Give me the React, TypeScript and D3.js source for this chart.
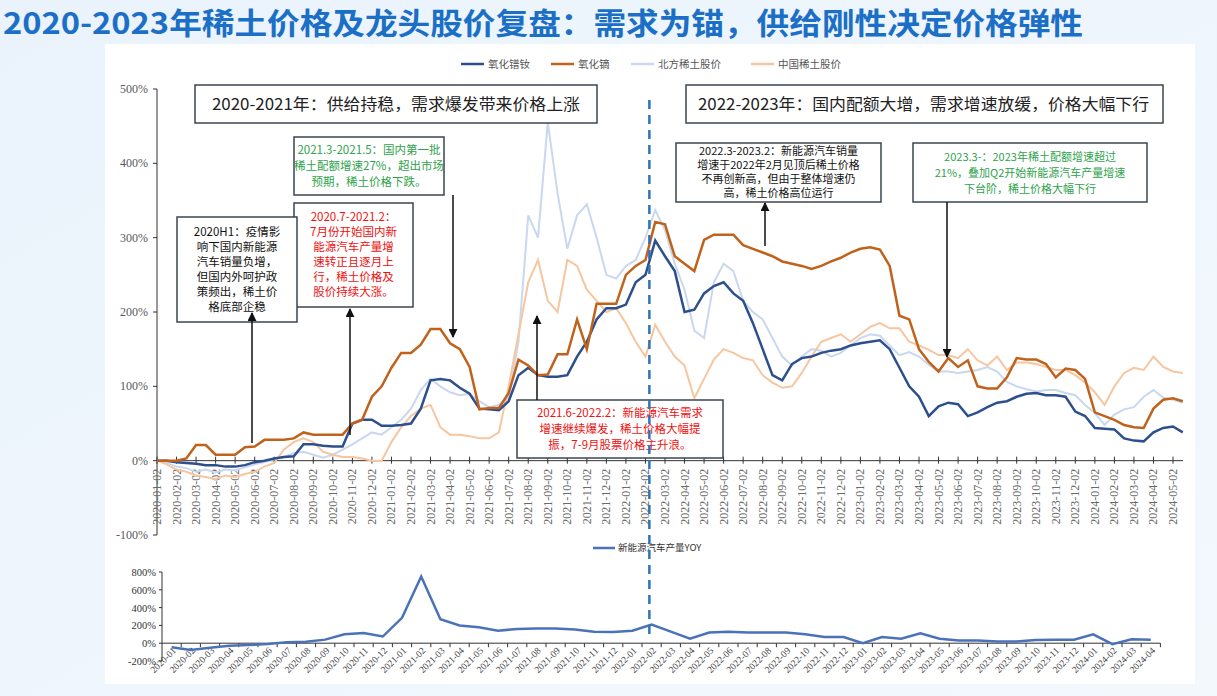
import React from 'react';
import * as d3 from 'd3';

// ---------- DATA ----------
const tickMonths = [
  '2020-01','2020-02','2020-03','2020-04','2020-05','2020-06','2020-07','2020-08','2020-09','2020-10','2020-11','2020-12',
  '2021-01','2021-02','2021-03','2021-04','2021-05','2021-06','2021-07','2021-08','2021-09','2021-10','2021-11','2021-12',
  '2022-01','2022-02','2022-03','2022-04','2022-05','2022-06','2022-07','2022-08','2022-09','2022-10','2022-11','2022-12',
  '2023-01','2023-02','2023-03','2023-04','2023-05','2023-06','2023-07','2023-08','2023-09','2023-10','2023-11','2023-12',
  '2024-01','2024-02','2024-03','2024-04','2024-05'
];
// price / stock samples taken on the 2nd and 17th of each month
const sampleDates = tickMonths.flatMap((m) => [m + '-02', m + '-17']);

const prNdOxide = [
  0,0,-2,-3,-4,-6,-6,-8,-8,-6,-2,0,3,5,6,22,22,20,19,19,50,55,55,47,47,48,50,70,108,110,
  108,98,90,70,69,68,80,115,125,115,113,113,115,140,160,190,205,205,210,240,250,296,275,255,200,203,225,235,240,225,
  215,185,150,115,108,130,138,140,145,148,150,155,158,160,162,150,125,100,86,60,73,78,76,60,65,72,78,80,86,90,
  91,88,88,86,66,60,44,43,42,30,27,26,38,44,46,38
];
const dyOxide = [
  0,0,0,3,21,21,8,8,8,18,19,28,28,28,30,38,35,35,35,35,50,55,86,100,125,145,145,156,177,177,
  158,150,126,69,71,71,91,136,128,115,116,143,143,190,150,211,211,211,250,262,270,321,318,275,265,255,297,304,304,304,
  290,285,280,275,268,265,262,258,262,268,273,280,285,287,284,262,195,190,150,133,120,138,126,135,100,97,97,112,138,136,
  136,130,112,124,122,110,65,60,55,48,45,44,70,82,84,80
];
const northernRE = [
  0,-3,-8,-10,-15,-12,-16,-12,-13,-9,-5,-2,2,5,10,12,8,4,8,15,22,30,38,35,45,55,70,95,110,100,
  92,88,90,80,72,75,85,160,330,300,455,360,285,330,345,300,250,245,262,270,300,337,310,265,230,175,165,240,265,255,
  215,200,190,165,140,128,140,150,148,140,145,155,165,170,168,155,142,146,140,129,120,120,118,120,122,126,120,106,100,96,
  93,95,95,91,88,75,64,48,62,69,72,86,95,85,82,78
];
const chinaRE = [
  0,-5,-12,-15,-20,-22,-25,-20,-22,-18,-15,-8,-3,15,25,30,25,12,8,5,5,3,0,0,25,45,60,70,75,45,
  35,35,33,30,30,38,100,170,240,270,215,200,270,262,230,215,200,205,185,160,140,183,160,140,128,84,110,136,150,145,
  138,135,115,105,98,100,118,140,160,165,170,160,170,180,185,178,178,160,155,149,142,142,138,150,135,128,140,122,132,132,
  130,126,122,122,115,105,92,75,100,118,125,122,140,126,120,118
];

const yoyMonths = tickMonths.slice(0, 52);
const nevOutputYoY = [
  -45,-75,-50,-30,-20,-10,10,15,40,100,115,75,
  285,750,270,200,180,140,160,165,165,155,130,125,
  140,210,130,50,120,130,120,120,120,100,70,70,
  0,70,50,110,50,30,30,20,20,35,40,40,
  100,-10,45,40
];

const mainYTicks = [-100, 0, 100, 200, 300, 400, 500];
const subYTicks = [-200, 0, 200, 400, 600, 800];

const legendNames = ['氧化镨钕', '氧化镝', '北方稀土股价', '中国稀土股价'];
const seriesColors = ['#2d4f8e', '#c0621c', '#c9d8ee', '#f6c6a0'];

// ---------- LAYOUT ----------
const W = 1217, H = 696;
const CJK = '"Noto Sans CJK SC", "Noto Sans", sans-serif';
const SERIF = '"Liberation Serif", "DejaVu Serif", serif';

const tOf = (s: string) => {
  const [yy, m, d] = s.split('-').map(Number);
  return (yy - 2020) * 12 + (m - 1) + ((d || 2) - 2) / 30;
};

const x = d3.scaleLinear().domain([0, 52]).range([157, 1173]);
const y = d3.scaleLinear().domain([-100, 500]).range([535, 89]);
const xb = d3.scaleBand().domain(yoyMonths).range([162, 162 + 52 * 19.2]);
const yb = d3.scaleLinear().domain([-200, 800]).range([661, 572]);

const lineGen = d3.line<[number, number]>().x((d) => x(d[0])).y((d) => y(d[1]));
const seriesPath = (vals: number[]) =>
  lineGen(vals.map((v, i) => [tOf(sampleDates[i]), v] as [number, number])) || '';

const yoyLine = d3
  .line<number>()
  .x((_, i) => (xb(yoyMonths[i]) as number) + xb.bandwidth() / 2)
  .y((v) => yb(v));

function Box(props: {
  x: number; y: number; w: number; h: number; lines: string[]; color: string;
  fs?: number; lh?: number;
}) {
  const { x: bx, y: by, w, h, lines, color } = props;
  const fs = props.fs ?? 11.5;
  const lh = props.lh ?? 15;
  const ty = by + (h - lh * lines.length) / 2 + lh * 0.76;
  return (
    <g>
      <rect x={bx} y={by} width={w} height={h} fill="#fff" stroke="#3a4450" strokeWidth={1.5} />
      {lines.map((l, i) => (
        <text key={i} x={bx + w / 2} y={ty + i * lh} textAnchor="middle" fontSize={fs} fill={color} fontFamily={CJK}>
          {l}
        </text>
      ))}
    </g>
  );
}

export default function App() {
  const dashX = x(tOf('2022-02-08'));
  return (
    <div style={{ position: 'absolute', left: 0, top: 0, width: W, height: H, overflow: 'hidden' }}>
      <svg width={W} height={H} style={{ display: 'block' }}>
        <defs>
          <linearGradient id="bg" x1="0" y1="0" x2="1" y2="1">
            <stop offset="0" stopColor="#eaf3fc" />
            <stop offset="1" stopColor="#f3f8fd" />
          </linearGradient>
          <marker id="ah" viewBox="0 0 10 10" refX="9" refY="5" markerWidth="9" markerHeight="9"
            markerUnits="userSpaceOnUse" orient="auto">
            <path d="M0,0 L10,5 L0,10 z" fill="#111" />
          </marker>
        </defs>
        <rect x={0} y={0} width={W} height={H} fill="url(#bg)" />
        <rect x={105} y={44} width={1090} height={640} fill="#fff" />

        {/* title */}
        <text x={3} y={34} fontSize={30} fontWeight={700} fill="#1b6fc6" fontFamily={CJK}
          textLength={1080} lengthAdjust="spacingAndGlyphs">
          2020-2023年稀土价格及龙头股价复盘：需求为锚，供给刚性决定价格弹性
        </text>

        {/* legend */}
        {legendNames.map((n, i) => {
          const lx = [461, 551, 631, 751][i];
          return (
            <g key={n}>
              <line x1={lx} x2={lx + 23} y1={64} y2={64} stroke={seriesColors[i]} strokeWidth={2.5} />
              <text x={lx + 27} y={68} fontSize={10.5} fill="#555" fontFamily={CJK}>{n}</text>
            </g>
          );
        })}

        {/* main axes */}
        <line x1={157} x2={157} y1={y(500)} y2={y(-100)} stroke="#333" strokeWidth={1} />
        {mainYTicks.map((v) => (
          <g key={v}>
            <line x1={153} x2={157} y1={y(v)} y2={y(v)} stroke="#333" />
            <text x={148} y={y(v) + 4} textAnchor="end" fontSize={12} fill="#595959" fontFamily={SERIF}>{v}%</text>
          </g>
        ))}
        <line x1={157} x2={1183} y1={y(0)} y2={y(0)} stroke="#333" strokeWidth={1} />
        {tickMonths.map((m, i) => (
          <g key={m}>
            <line x1={x(i)} x2={x(i)} y1={y(0) - 4} y2={y(0) + 3} stroke="#333" />
            <text transform={`translate(${x(i) + 4},${y(0) + 8}) rotate(-90)`} textAnchor="end" fontSize={12}
              fill="#6a6a6a" fontFamily={SERIF}>{m + '-02'}</text>
          </g>
        ))}

        {/* series */}
        <path d={seriesPath(northernRE)} fill="none" stroke={seriesColors[2]} strokeWidth={2} />
        <path d={seriesPath(chinaRE)} fill="none" stroke={seriesColors[3]} strokeWidth={2} />
        <path d={seriesPath(prNdOxide)} fill="none" stroke={seriesColors[0]} strokeWidth={2.5} />
        <path d={seriesPath(dyOxide)} fill="none" stroke={seriesColors[1]} strokeWidth={2.5} />

        {/* annotation boxes */}
        <rect x={195} y={85} width={402} height={38} fill="#fff" stroke="#3a4450" strokeWidth={1.5} />
        <text x={212} y={110} fontSize={16} fill="#222" fontFamily={CJK} textLength={368} lengthAdjust="spacingAndGlyphs">
          2020-2021年：供给持稳，需求爆发带来价格上涨
        </text>
        <rect x={686} y={85} width={477} height={38} fill="#fff" stroke="#3a4450" strokeWidth={1.5} />
        <text x={698} y={110} fontSize={16} fill="#222" fontFamily={CJK} textLength={451} lengthAdjust="spacingAndGlyphs">
          2022-2023年：国内配额大增，需求增速放缓，价格大幅下行
        </text>

        <Box x={294} y={137} w={150} h={58} color="#2ea34c" lh={16}
          lines={['2021.3-2021.5：国内第一批', '稀土配额增速27%，超出市场', '预期，稀土价格下跌。']} />
        <Box x={294} y={203} w={119} h={104} color="#f01010"
          lines={['2020.7-2021.2：', '7月份开始国内新', '能源汽车产量增', '速转正且逐月上', '行，稀土价格及', '股价持续大涨。']} />
        <Box x={177} y={217} w={120} h={105} color="#111"
          lines={['2020H1：疫情影', '响下国内新能源', '汽车销量负增，', '但国内外呵护政', '策频出，稀土价', '格底部企稳']} />
        <Box x={517} y={400} w={206} h={58} color="#f01010" lh={16}
          lines={['2021.6-2022.2：新能源汽车需求', '增速继续爆发，稀土价格大幅提', '振，7-9月股票价格主升浪。']} />
        <Box x={676} y={143} w={205} h={59} color="#111" fs={11} lh={14}
          lines={['2022.3-2023.2：新能源汽车销量', '增速于2022年2月见顶后稀土价格', '不再创新高，但由于整体增速仍', '高，稀土价格高位运行']} />
        <Box x={913} y={143} w={234} h={59} color="#2ea34c" fs={11} lh={16}
          lines={['2023.3-：2023年稀土配额增速超过', '21%，叠加Q2开始新能源汽车产量增速', '下台阶，稀土价格大幅下行']} />

        {/* arrows */}
        <line x1={252} y1={443} x2={252} y2={313} stroke="#111" strokeWidth={1.5} markerEnd="url(#ah)" />
        <line x1={350} y1={435} x2={350} y2={309} stroke="#111" strokeWidth={1.5} markerEnd="url(#ah)" />
        <line x1={453} y1={195} x2={453} y2={337} stroke="#111" strokeWidth={1.5} markerEnd="url(#ah)" />
        <line x1={537} y1={400} x2={537} y2={316} stroke="#111" strokeWidth={1.5} markerEnd="url(#ah)" />
        <line x1={765} y1={246} x2={765} y2={203} stroke="#111" strokeWidth={1.5} markerEnd="url(#ah)" />
        <line x1={947} y1={202} x2={947} y2={357} stroke="#111" strokeWidth={1.5} markerEnd="url(#ah)" />

        {/* lower chart: NEV output YoY */}
        <line x1={593} x2={615} y1={548} y2={548} stroke="#4a72b8" strokeWidth={2.5} />
        <text x={618} y={551} fontSize={9.5} fill="#333" fontFamily={CJK}>新能源汽车产量YOY</text>
        <line x1={162} x2={162} y1={yb(800)} y2={yb(-200)} stroke="#333" />
        {subYTicks.map((v) => (
          <g key={v}>
            <line x1={159} x2={162} y1={yb(v)} y2={yb(v)} stroke="#333" />
            <text x={156} y={yb(v) + 4} textAnchor="end" fontSize={10.5} fill="#333" fontFamily={SERIF}>{v}%</text>
          </g>
        ))}
        <line x1={162} x2={162 + 52 * 19.2} y1={yb(0)} y2={yb(0)} stroke="#333" />
        {yoyMonths.map((m) => {
          const cx = (xb(m) as number) + xb.bandwidth() / 2;
          return (
            <g key={m}>
              <line x1={(xb(m) as number) + xb.bandwidth()} x2={(xb(m) as number) + xb.bandwidth()}
                y1={yb(0)} y2={yb(0) + 4} stroke="#333" />
              <text transform={`translate(${cx + 5},${yb(0) + 8}) rotate(-45)`} textAnchor="end" fontSize={9.5}
                fill="#444" fontFamily={SERIF}>{m}</text>
            </g>
          );
        })}
        <path d={yoyLine(nevOutputYoY) || ''} fill="none" stroke="#4a72b8" strokeWidth={2.5} />

        {/* dashed marker */}
        <line x1={dashX} x2={dashX} y1={100} y2={634} stroke="#2e75b6" strokeWidth={2.5} strokeDasharray="9 6" />
      </svg>
    </div>
  );
}
